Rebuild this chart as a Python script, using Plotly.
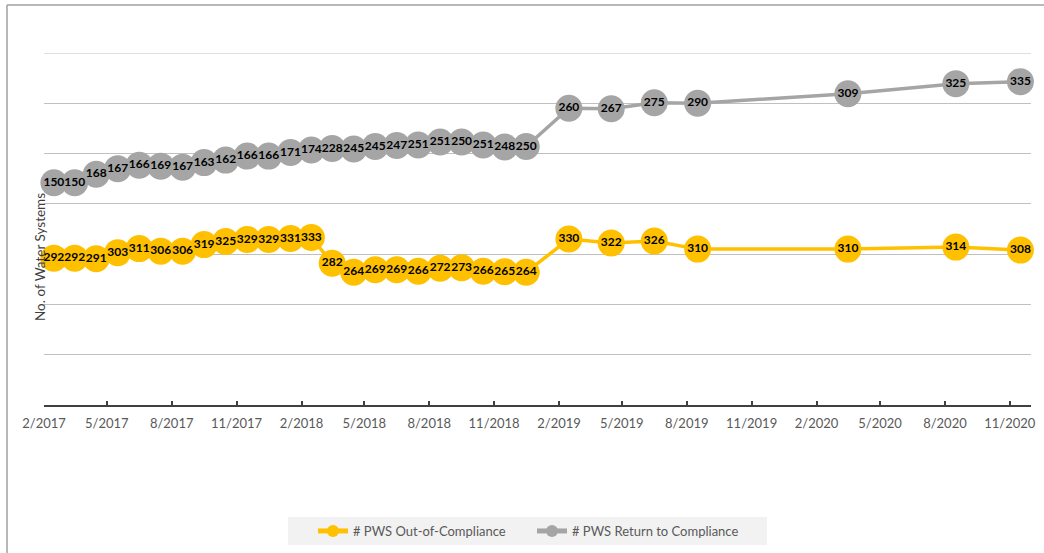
import plotly.graph_objects as go

# Reporting months (one point per month, missing months skipped)
months = [
    "2017-02-01", "2017-03-01", "2017-04-01", "2017-05-01", "2017-06-01", "2017-07-01",
    "2017-08-01", "2017-09-01", "2017-10-01", "2017-11-01", "2017-12-01", "2018-01-01",
    "2018-02-01", "2018-03-01", "2018-04-01", "2018-05-01", "2018-06-01", "2018-07-01",
    "2018-08-01", "2018-09-01", "2018-10-01", "2018-11-01", "2018-12-01",
    "2019-02-01", "2019-04-01", "2019-06-01", "2019-08-01",
    "2020-03-01", "2020-08-01", "2020-11-01",
]

out_of_compliance = [
    292, 292, 291, 303, 311, 306, 306, 319, 325, 329, 329, 331, 333, 282, 264, 269, 269,
    266, 272, 273, 266, 265, 264, 330, 322, 326, 310, 310, 314, 308,
]

return_to_compliance = [
    150, 150, 168, 167, 166, 169, 167, 163, 162, 166, 166, 171, 174, 228, 245, 245, 247,
    251, 251, 250, 251, 248, 250, 260, 267, 275, 290, 309, 325, 335,
]

series = [
    ("# PWS Out-of-Compliance", out_of_compliance, "#FFC000"),
    ("# PWS Return to Compliance", return_to_compliance, "#A5A5A5"),
]

L, R, T, B = 44, 1031, 53, 405  # plot area in pixels
W, H = 1044, 553


def px_x(p):
    return (p - L) / (R - L)


def px_y(p):
    return (B - p) / (B - T)


fig = go.Figure()
for name, vals, color in series:
    fig.add_trace(go.Scatter(
        x=months,
        y=vals,
        xperiod="M1",
        xperiodalignment="middle",
        name=name,
        stackgroup="stack",
        fill="none",
        mode="lines+markers+text",
        line=dict(color=color, width=3.5),
        marker=dict(color=color, size=27, line=dict(width=0)),
        text=[str(v) for v in vals],
        textposition="middle center",
        textfont=dict(family="Lato", size=12, color="#000000", weight="bold"),
        cliponaxis=False,
    ))

fig.update_layout(
    width=W,
    height=H,
    autosize=False,
    margin=dict(l=L, r=W - R, t=T, b=H - B, autoexpand=False),
    paper_bgcolor="#FFFFFF",
    plot_bgcolor="#FFFFFF",
    showlegend=True,
    legend=dict(
        orientation="h",
        x=px_x(313),
        y=px_y(531),
        xanchor="left",
        yanchor="middle",
        bgcolor="rgba(0,0,0,0)",
        font=dict(family="Lato", size=13, color="#595959"),
        entrywidth=174,
        itemsizing="constant",
    ),
    xaxis=dict(
        type="date",
        range=["2017-02-01", "2020-12-01"],
        tick0="2017-02-01",
        dtick="M3",
        tickformat="%-m/%Y",
        ticks="inside",
        ticklen=4,
        tickwidth=1.5,
        tickcolor="#404040",
        showline=True,
        linecolor="#404040",
        linewidth=1.5,
        showgrid=False,
        zeroline=False,
        tickfont=dict(family="Lato", size=13, color="#595959"),
        ticklabelstandoff=6,
    ),
    yaxis=dict(
        range=[0, 700],
        dtick=100,
        showticklabels=False,
        showgrid=True,
        gridcolor="#C0C0C0",
        gridwidth=1,
        zeroline=False,
        showline=False,
        ticks="",
    ),
    shapes=[
        # legend panel
        dict(type="rect", xref="paper", yref="paper",
             x0=px_x(288), x1=px_x(767), y0=px_y(545), y1=px_y(517),
             fillcolor="#F2F2F2", line=dict(width=0), layer="below"),
        # top gridline at the upper edge of the value range
        dict(type="line", xref="paper", yref="y",
             x0=0, x1=1, y0=700, y1=700,
             line=dict(color="#C0C0C0", width=1), layer="below"),
        # chart frame (top and left edges)
        dict(type="line", xref="paper", yref="paper",
             x0=px_x(7), x1=px_x(1044), y0=px_y(5), y1=px_y(5),
             line=dict(color="#A0A0A0", width=1.5)),
        dict(type="line", xref="paper", yref="paper",
             x0=px_x(7), x1=px_x(7), y0=px_y(5), y1=px_y(553),
             line=dict(color="#A0A0A0", width=1.5)),
    ],
    annotations=[
        dict(text="No. of Water Systems", xref="paper", yref="paper",
             x=px_x(40), y=px_y(257), textangle=-90, showarrow=False,
             xanchor="center", yanchor="middle",
             font=dict(family="Lato", size=13.5, color="#404040")),
    ],
)

fig.write_html("out.html")
